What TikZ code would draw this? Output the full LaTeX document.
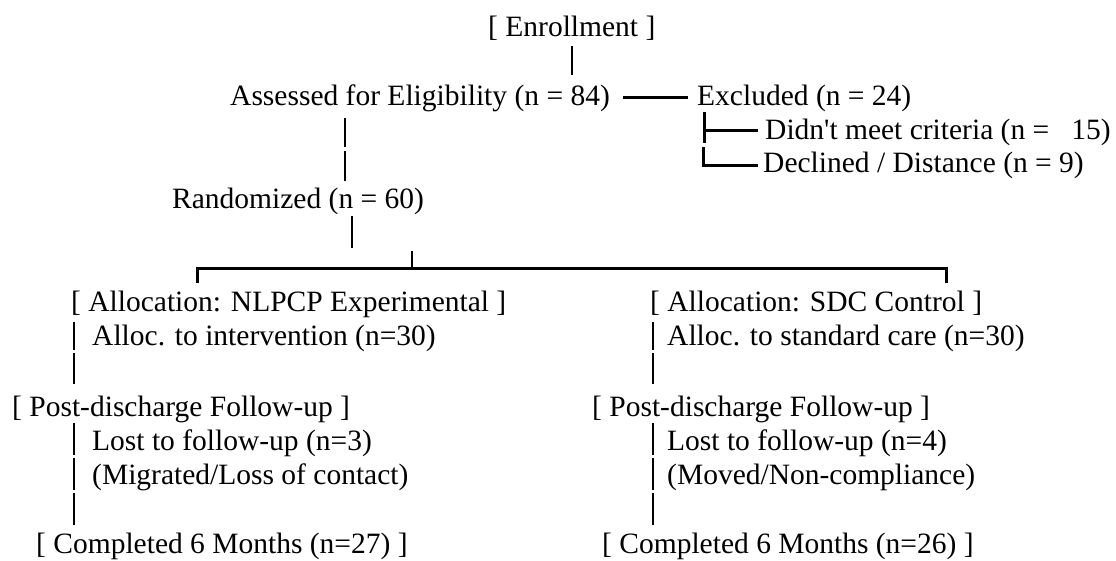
\documentclass[tikz,border=0pt]{standalone}
\usepackage{fontspec}
\setmainfont{Liberation Serif}[Ligatures=TeXOff]
\begin{document}
\begin{tikzpicture}[x=1pt,y=-1pt,
  txt/.style={anchor=base west,inner sep=0pt,font=\fontsize{29.5}{34}\selectfont},
  pipe/.style={line width=2.4pt},
  rule/.style={line width=3pt}]
\useasboundingbox (0,0) rectangle (1116,560);
% text nodes
\node[txt] (enroll) at (488,36) {[ Enrollment ]};
\node[txt] (assess) at (230,105) {Assessed for Eligibility (n = 84)};
\node[txt] (excl) at (697,105) {Excluded (n = 24)};
\node[txt] (didnt) at (765,139) {Didn't meet criteria (n =\ \ \ 15)};
\node[txt] (decl) at (763,172) {Declined / Distance (n = 9)};
\node[txt] (rand) at (172,208) {Randomized (n = 60)};
\node[txt] (allocE) at (71,311) {[ Allocation: NLPCP Experimental ]};
\node[txt] (allocEn) at (92,345) {Alloc. to intervention (n=30)};
\node[txt] (postE) at (12,416) {[ Post-discharge Follow-up ]};
\node[txt] (lostE) at (92,450) {Lost to follow-up (n=3)};
\node[txt] (migE) at (92,484) {(Migrated/Loss of contact)};
\node[txt] (compE) at (36,553) {[ Completed 6 Months (n=27) ]};
\node[txt] (allocC) at (650,311) {[ Allocation: SDC Control ]};
\node[txt] (allocCn) at (667,345) {Alloc. to standard care (n=30)};
\node[txt] (postC) at (592,416) {[ Post-discharge Follow-up ]};
\node[txt] (lostC) at (667,450) {Lost to follow-up (n=4)};
\node[txt] (movC) at (667,484) {(Moved/Non-compliance)};
\node[txt] (compC) at (602,553) {[ Completed 6 Months (n=26) ]};
% coordinates for connector ends
\coordinate (e1) at (572,46); \coordinate (e2) at (572,75);
\coordinate (d1) at (623,97); \coordinate (d2) at (688,97);
\coordinate (a1) at (345,118); \coordinate (a2) at (345,147);
\coordinate (a3) at (345,151); \coordinate (a4) at (345,181);
\coordinate (r1) at (352,216); \coordinate (r2) at (352,248);
\coordinate (u1) at (412,251); \coordinate (u2) at (412,268);
\coordinate (hl) at (197,268); \coordinate (hr) at (946,268);
\coordinate (hl2) at (197,283); \coordinate (hr2) at (946,283);
\coordinate (x1) at (704,112); \coordinate (x2) at (704,143);
\coordinate (x3) at (704,130); \coordinate (x4) at (758,130);
\coordinate (x5) at (703,147); \coordinate (x6) at (703,165); \coordinate (x7) at (758,165);
% left column pipes
\coordinate (l1) at (74,322); \coordinate (l2) at (74,350);
\coordinate (l3) at (74,353); \coordinate (l4) at (74,384);
\coordinate (l5) at (74,423); \coordinate (l6) at (74,455);
\coordinate (l7) at (74,458); \coordinate (l8) at (74,490);
\coordinate (l9) at (74,493); \coordinate (l10) at (74,525);
% right column pipes
\coordinate (c1) at (653,322); \coordinate (c2) at (653,350);
\coordinate (c3) at (653,353); \coordinate (c4) at (653,384);
\coordinate (c5) at (653,423); \coordinate (c6) at (653,455);
\coordinate (c7) at (653,458); \coordinate (c8) at (653,490);
\coordinate (c9) at (653,493); \coordinate (c10) at (653,525);
% connectors
\draw[pipe] (e1) -- (e2);
\draw[rule] (d1) -- (d2);
\draw[pipe] (a1) -- (a2);
\draw[pipe] (a3) -- (a4);
\draw[pipe] (r1) -- (r2);
\draw[pipe] (u1) -- (u2);
\draw[rule] (hl2) -- (hl) -- (hr) -- (hr2);
\draw[rule] (x1) -- (x2);
\draw[rule] (x3) -- (x4);
\draw[rule] (x5) -- (x6) -- (x7);
\foreach \p/\q in {l1/l2,l3/l4,l5/l6,l7/l8,l9/l10,c1/c2,c3/c4,c5/c6,c7/c8,c9/c10}
  \draw[pipe] (\p) -- (\q);
\end{tikzpicture}
\end{document}
